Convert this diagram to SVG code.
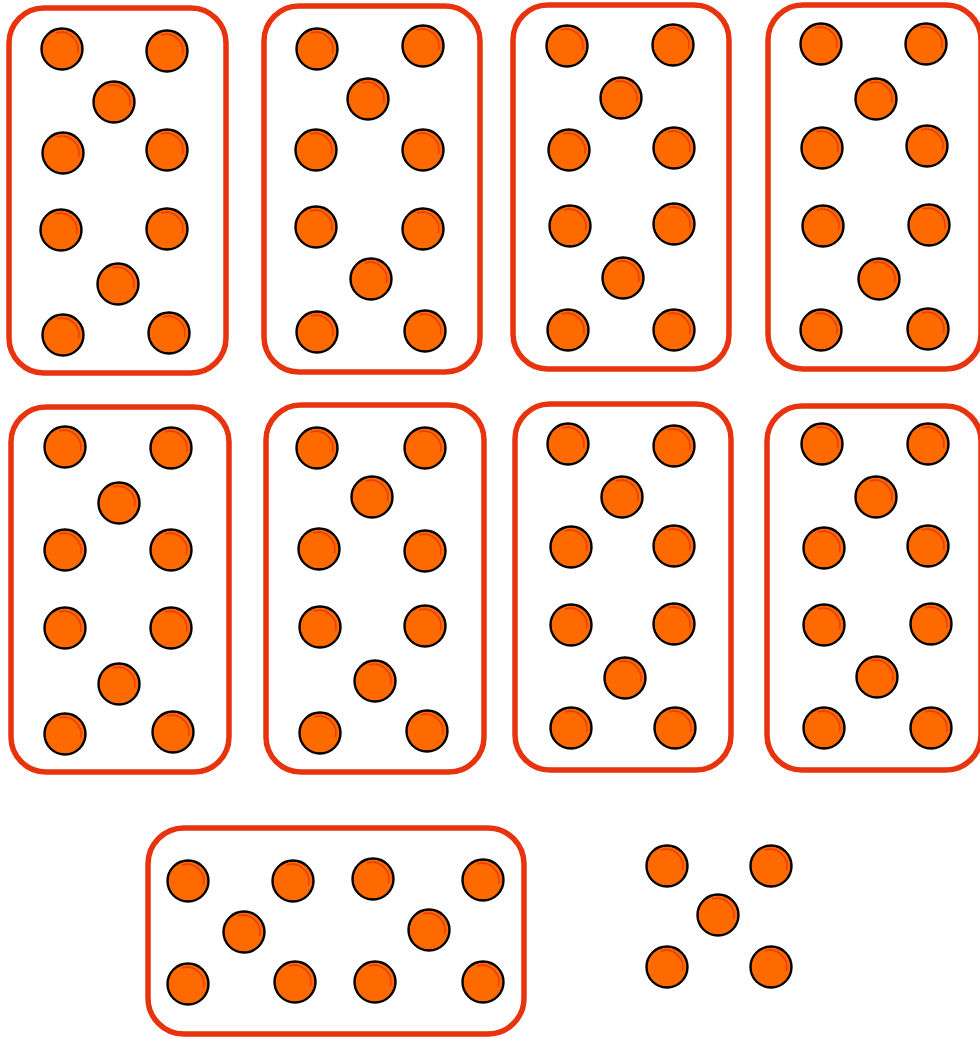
<svg xmlns="http://www.w3.org/2000/svg" xmlns:xlink="http://www.w3.org/1999/xlink" width="980" height="1039" viewBox="0 0 980 1039">
<style>
.box{fill:#fff;stroke:#E8330F;stroke-width:5.5}
.dc{fill:#FF6A00;stroke:#000;stroke-width:2.4}
.hl{fill:none;stroke:#E8400C;stroke-width:1.6}
</style>
<defs>
<g id="dot"><circle class="dc" r="20.5"/><path class="hl" d="M -6 -16 A 17 17 0 0 1 15.5 4"/></g>
</defs>
<rect width="980" height="1039" fill="#fff"/>
<g id="box1">
<rect class="box" x="9" y="8" width="217" height="365" rx="35"/>
<use href="#dot" x="62" y="49"/><use href="#dot" x="167" y="51"/><use href="#dot" x="114" y="102"/>
<use href="#dot" x="63" y="153"/><use href="#dot" x="167" y="150"/><use href="#dot" x="61" y="230"/>
<use href="#dot" x="167" y="229"/><use href="#dot" x="118" y="284"/><use href="#dot" x="63" y="335"/><use href="#dot" x="169" y="333"/>
</g>
<g id="box2">
<rect class="box" x="264" y="6" width="216" height="366" rx="35"/>
<use href="#dot" x="317" y="49"/><use href="#dot" x="423" y="46"/><use href="#dot" x="368" y="99"/>
<use href="#dot" x="316" y="150"/><use href="#dot" x="423" y="150"/><use href="#dot" x="316" y="227"/>
<use href="#dot" x="423" y="229"/><use href="#dot" x="371" y="279"/><use href="#dot" x="317" y="332"/><use href="#dot" x="425" y="331"/>
</g>
<g id="box3">
<rect class="box" x="513" y="5" width="216" height="364" rx="35"/>
<use href="#dot" x="567" y="46"/><use href="#dot" x="673" y="45"/><use href="#dot" x="621" y="98"/>
<use href="#dot" x="569" y="150"/><use href="#dot" x="674" y="148"/><use href="#dot" x="570" y="226"/>
<use href="#dot" x="674" y="224"/><use href="#dot" x="623" y="278"/><use href="#dot" x="568" y="330"/><use href="#dot" x="674" y="330"/>
</g>
<g id="box4">
<rect class="box" x="768" y="5" width="213" height="364" rx="35"/>
<use href="#dot" x="821" y="44"/><use href="#dot" x="926" y="44"/><use href="#dot" x="876" y="99"/>
<use href="#dot" x="822" y="148"/><use href="#dot" x="927" y="146"/><use href="#dot" x="823" y="226"/>
<use href="#dot" x="929" y="225"/><use href="#dot" x="879" y="279"/><use href="#dot" x="821" y="330"/><use href="#dot" x="928" y="329"/>
</g>
<g id="box5">
<rect class="box" x="11" y="407" width="218" height="365" rx="35"/>
<use href="#dot" x="65" y="447"/><use href="#dot" x="171" y="448"/><use href="#dot" x="119" y="503"/>
<use href="#dot" x="65" y="550"/><use href="#dot" x="171" y="550"/><use href="#dot" x="65" y="628"/>
<use href="#dot" x="171" y="628"/><use href="#dot" x="119" y="684"/><use href="#dot" x="65" y="734"/><use href="#dot" x="173" y="732"/>
</g>
<g id="box6">
<rect class="box" x="266" y="405" width="218" height="367" rx="35"/>
<use href="#dot" x="317" y="448"/><use href="#dot" x="425" y="448"/><use href="#dot" x="372" y="497"/>
<use href="#dot" x="319" y="549"/><use href="#dot" x="425" y="551"/><use href="#dot" x="320" y="627"/>
<use href="#dot" x="425" y="626"/><use href="#dot" x="375" y="681"/><use href="#dot" x="320" y="733"/><use href="#dot" x="427" y="731"/>
</g>
<g id="box7">
<rect class="box" x="515" y="404" width="216" height="366" rx="35"/>
<use href="#dot" x="568" y="444"/><use href="#dot" x="674" y="446"/><use href="#dot" x="622" y="497"/>
<use href="#dot" x="571" y="547"/><use href="#dot" x="674" y="546"/><use href="#dot" x="571" y="625"/>
<use href="#dot" x="674" y="624"/><use href="#dot" x="625" y="678"/><use href="#dot" x="571" y="728"/><use href="#dot" x="675" y="728"/>
</g>
<g id="box8">
<rect class="box" x="767" y="406" width="214" height="364" rx="35"/>
<use href="#dot" x="822" y="444"/><use href="#dot" x="928" y="444"/><use href="#dot" x="876" y="497"/>
<use href="#dot" x="824" y="548"/><use href="#dot" x="928" y="546"/><use href="#dot" x="824" y="625"/>
<use href="#dot" x="931" y="624"/><use href="#dot" x="877" y="677"/><use href="#dot" x="824" y="728"/><use href="#dot" x="931" y="728"/>
</g>
<g id="box9">
<rect class="box" x="148" y="828" width="376" height="206" rx="36"/>
<use href="#dot" x="188" y="881"/><use href="#dot" x="293" y="881"/><use href="#dot" x="373" y="879"/><use href="#dot" x="483" y="880"/>
<use href="#dot" x="244" y="932"/><use href="#dot" x="429" y="930"/>
<use href="#dot" x="188" y="984"/><use href="#dot" x="295" y="982"/><use href="#dot" x="375" y="982"/><use href="#dot" x="483" y="982"/>
</g>
<g id="loose">
<use href="#dot" x="667" y="866"/><use href="#dot" x="771" y="866"/><use href="#dot" x="718" y="915"/>
<use href="#dot" x="667" y="967"/><use href="#dot" x="771" y="967"/>
</g>
</svg>
